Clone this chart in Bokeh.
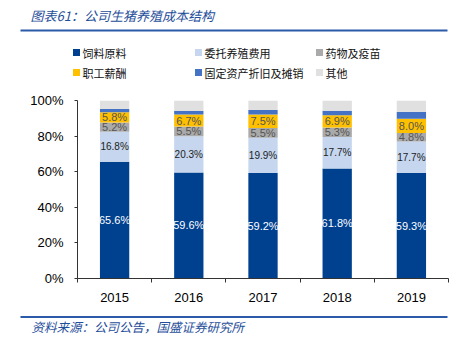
from bokeh.plotting import figure
from bokeh.models import ColumnDataSource, FixedTicker, Range1d
from bokeh.layouts import column, row
from bokeh.core.properties import value
from bokeh.embed import file_html
from bokeh.resources import INLINE

years = ["2015", "2016", "2017", "2018", "2019"]
feed = [65.6, 59.6, 59.2, 61.8, 59.3]
entrust = [16.8, 20.3, 19.9, 17.7, 17.7]
drugs = [5.2, 5.5, 5.5, 5.3, 4.8]
salary = [5.8, 6.7, 7.5, 6.9, 8.0]
depr = [1.8, 2.0, 2.5, 2.6, 3.8]
other = [4.8, 5.9, 5.4, 5.7, 6.4]

series_names = ["饲料原料", "委托养殖费用", "药物及疫苗", "职工薪酬", "固定资产折旧及摊销", "其他"]
colors = ["#00418F", "#C5D6EE", "#AAAAAA", "#FFC000", "#4472C4", "#E0E0E0"]
label_colors = ["#FFFFFF", "#222222", "#555555", "#555555"]
label_sizes = ["11px", "10px", "11px", "11px"]

title_text = "图表61：公司生猪养殖成本结构"
source_text = "资料来源：公司公告，国盛证券研究所"

W = 465
HEAD_H, MAIN_H, FOOT_H = 92, 223, 30
FL, FR, FT, FB = 77, 17, 8, 37  # main frame borders
blue = "#2B5AA8"
title_blue = "#1F4E9A"


def blank(h):
    f = figure(width=W, height=h, output_backend="svg", toolbar_location=None,
               x_range=Range1d(0, W), y_range=Range1d(h, 0),
               x_axis_type=None, y_axis_type=None,
               min_border=0, min_border_left=0, min_border_right=0,
               min_border_top=0, min_border_bottom=0)
    f.outline_line_color = None
    f.grid.visible = False
    return f


# ---------- header: title, rule, legend ----------
head = blank(HEAD_H)
head.text(x=[30], y=[15], text=[title_text], text_font=value("Noto Sans CJK SC"),
          text_font_style="italic", text_font_size="13px", text_color=title_blue,
          text_baseline="middle")
head.line(x=[20, 447], y=[30, 30], line_color=blue, line_width=2)
leg_x = [76, 198, 319]
leg_y = [52, 72]
lx = [leg_x[i % 3] for i in range(len(series_names))]
ly = [leg_y[i // 3] for i in range(len(series_names))]
head.rect(x=lx, y=ly, width=7, height=7, fill_color=colors, line_color=None)
head.text(x=[v + 6 for v in lx], y=ly, text=series_names,
          text_font=value("Noto Sans CJK SC"), text_font_size="11px",
          text_color="#111111", text_baseline="middle")

# ---------- main chart ----------
series = [feed, entrust, drugs, salary, depr, other]
keys = ["s%d" % i for i in range(len(series))]
xs = [i + 0.5 for i in range(len(years))]
data = {"x": xs}
for k, s in zip(keys, series):
    data[k] = [v / 100.0 for v in s]
src = ColumnDataSource(data)

p = figure(width=W, height=MAIN_H, output_backend="svg", toolbar_location=None,
           x_range=Range1d(0, len(years)), y_range=Range1d(0, 1),
           min_border_left=FL, min_border_right=FR, min_border_top=FT,
           min_border_bottom=FB)
p.outline_line_color = None
p.grid.visible = False

p.vbar_stack(keys, x="x", width=0.395, color=colors, source=src, line_color=None)

for si in range(4):
    tx, ty, tt = [], [], []
    for j in range(len(years)):
        base = sum(series[k][j] for k in range(si))
        tx.append(xs[j])
        ty.append((base + series[si][j] / 2.0) / 100.0)
        tt.append("%.1f%%" % series[si][j])
    p.text(x=tx, y=ty, text=tt, text_align="center", text_baseline="middle",
           text_color=label_colors[si], text_font=value("Liberation Sans"),
           text_font_size=label_sizes[si])

yax = p.yaxis[0]
yax.ticker = FixedTicker(ticks=[0, 0.2, 0.4, 0.6, 0.8, 1.0])
yax.major_label_overrides = {0: "0%", 0.2: "20%", 0.4: "40%", 0.6: "60%", 0.8: "80%", 1.0: "100%"}
yax.minor_tick_line_color = None
yax.major_tick_in = 0
yax.major_tick_out = 3
yax.axis_line_color = "#333333"
yax.major_tick_line_color = "#333333"
yax.major_label_text_font = "Liberation Sans"
yax.major_label_text_font_size = "13px"
yax.major_label_text_color = "#000000"
yax.major_label_standoff = 11

xax = p.xaxis[0]
xax.ticker = FixedTicker(ticks=xs, minor_ticks=list(range(len(years) + 1)))
xax.major_label_overrides = {x: y for x, y in zip(xs, years)}
xax.major_tick_in = 0
xax.major_tick_out = 0
xax.minor_tick_in = 0
xax.minor_tick_out = 4
xax.minor_tick_line_color = "#333333"
xax.axis_line_color = "#333333"
xax.major_label_text_font = "Liberation Sans"
xax.major_label_text_font_size = "13px"
xax.major_label_text_color = "#000000"
xax.major_label_standoff = 10

# ---------- footer ----------
foot = blank(FOOT_H)
foot.line(x=[20, 447], y=[1.5, 1.5], line_color=blue, line_width=2)
foot.text(x=[31], y=[10.5], text=[source_text], text_font=value("Noto Sans CJK SC"),
          text_font_style="italic", text_font_size="12.5px", text_color=title_blue,
          text_baseline="middle")

layout = column(row(head), row(p), row(foot), spacing=0)
open("out.html", "w").write(file_html(layout, INLINE))
